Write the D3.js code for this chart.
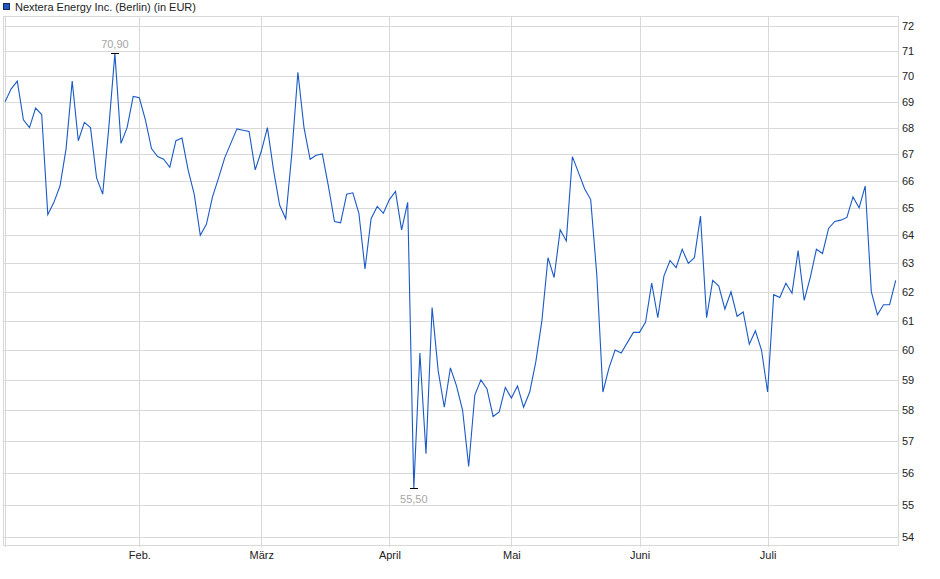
<!DOCTYPE html>
<html>
<head>
<meta charset="utf-8">
<script src="https://d3js.org/d3.v7.min.js"></script>
<style>
  body { margin: 0; background: #fff; }
  text { font-family: "Liberation Sans", Arial, sans-serif; }
</style>
</head>
<body>
<div id="chart"></div>
<script>
// Nextera Energy Inc. (Berlin), daily close in EUR, 2 Jan - 30 Jul (trading days)
const prices = [
  69.0, 69.5, 69.8, 68.3, 68.0, 68.75, 68.5, 64.75, 65.2, 65.8,
  67.2, 69.8, 67.5, 68.2, 68.0, 66.1, 65.5, 68.0, 70.9, 67.4,
  68.0, 69.2, 69.15, 68.3, 67.2, 66.9, 66.8, 66.5, 67.5, 67.6,
  66.4, 65.5, 64.0, 64.4, 65.4, 66.1, 66.85, 67.4, 67.95, 67.9,
  67.85, 66.4, 67.1, 68.0, 66.4, 65.1, 64.6, 67.0, 70.15, 68.0,
  66.8, 66.95, 67.0, 65.8, 64.5, 64.45, 65.5, 65.55, 64.8, 62.8,
  64.6, 65.05, 64.8, 65.3, 65.6, 64.2, 65.2, 55.5, 59.9, 56.6,
  61.45, 59.3, 58.1, 59.4, 58.8, 58.0, 56.2, 58.5, 59.0, 58.7,
  57.8, 57.95, 58.75, 58.4, 58.8, 58.1, 58.6, 59.6, 61.0, 63.2,
  62.5, 64.2, 63.8, 66.9, 66.3, 65.7, 65.3, 62.6, 58.6, 59.4,
  60.0, 59.9, 60.25, 60.6, 60.6, 60.95, 62.3, 61.1, 62.55, 63.1,
  62.85, 63.5, 63.0, 63.2, 64.7, 61.1, 62.4, 62.2, 61.4, 62.0,
  61.15, 61.3, 60.2, 60.65, 60.0, 58.6, 61.9, 61.8, 62.3, 61.95,
  63.45, 61.7, 62.5, 63.5, 63.35, 64.25, 64.5, 64.55, 64.65, 65.4,
  65.0, 65.8, 62.0, 61.2, 61.55, 61.55, 62.4
]

// first trading day of each month (index into prices)
const monthStarts = [0, 22, 42, 63, 83, 104, 125]
const monthLabels = ["", "Feb.", "März", "April", "Mai", "Juni", "Juli"]

const yTicks = d3.range(54, 73)

let width = 940, height = 579
let plot = {left: 3, right: 898, top: 16, bottom: 545}

let svg = d3.select("#chart")
            .append('svg')
            .attr('width', width)
            .attr('height', height)

let x = d3.scaleLinear()
          .domain([0, prices.length - 1])
          .range([5.1, 895.7])

// price axis is logarithmic
let y = d3.scaleLog()
          .domain([54, 72])
          .range([537.3, 26])

let gridColor = "#d9d9d9"

// horizontal grid + right axis labels
let yAxis = svg.append('g')
               .attr('transform', "translate(" + plot.right + ",0)")
               .call(d3.axisRight(y)
                       .tickValues(yTicks)
                       .tickFormat(d3.format("d"))
                       .tickSize(-(plot.right - plot.left))
                       .tickPadding(4))
yAxis.select('.domain').remove()
yAxis.selectAll('line')
     .attr('stroke', gridColor)
     .attr('shape-rendering', 'crispEdges')
yAxis.selectAll('text')
     .attr('fill', '#222')
     .style('font-size', '11px')

// vertical month grid + labels
let xAxis = svg.append('g')
               .attr('transform', "translate(0," + (plot.bottom + 2) + ")")
               .call(d3.axisBottom(x)
                       .tickValues(monthStarts)
                       .tickFormat(function(d, i) { return monthLabels[i] })
                       .tickSize(plot.bottom + 2 - plot.top)
                       .tickPadding(-(plot.bottom + 2 - plot.top) + 4))
xAxis.select('.domain').remove()
xAxis.selectAll('line')
     .attr('y2', -(plot.bottom + 2 - plot.top))
     .attr('stroke', gridColor)
     .attr('shape-rendering', 'crispEdges')
xAxis.selectAll('text')
     .attr('y', 4)
     .attr('fill', '#222')
     .style('font-size', '11px')

// frame
svg.append('rect')
   .attr('x', plot.left)
   .attr('y', plot.top)
   .attr('width', plot.right - plot.left)
   .attr('height', plot.bottom - plot.top)
   .attr('fill', 'none')
   .attr('stroke', gridColor)
   .attr('shape-rendering', 'crispEdges')

// price line
let line = d3.line()
             .x(function(d, i) { return x(i) })
             .y(function(d) { return y(d) })

svg.append('path')
   .datum(prices)
   .attr('d', line)
   .attr('fill', 'none')
   .attr('stroke', '#1a5ac6')
   .attr('stroke-width', 1.1)

// high / low markers
let hi = d3.maxIndex(prices), lo = d3.minIndex(prices)
let fmt = function(v) { return d3.format(".2f")(v).replace(".", ",") }

;[{i: hi, dy: -5}, {i: lo, dy: 14}].forEach(function(m) {
  let cx = x(m.i), cy = y(prices[m.i])
  svg.append('line')
     .attr('x1', cx - 4).attr('x2', cx + 4)
     .attr('y1', cy).attr('y2', cy)
     .attr('stroke', '#000')
     .attr('stroke-width', 1)
     .attr('shape-rendering', 'crispEdges')
  svg.append('text')
     .attr('x', cx)
     .attr('y', cy + m.dy)
     .attr('text-anchor', 'middle')
     .attr('fill', '#a6a6a6')
     .style('font-size', '11px')
     .text(fmt(prices[m.i]))
})

// legend
svg.append('rect')
   .attr('x', 3.5).attr('y', 3.5)
   .attr('width', 6).attr('height', 6)
   .attr('fill', '#1a5ac6')
   .attr('stroke', '#1c2a50')
svg.append('text')
   .attr('x', 15)
   .attr('y', 11)
   .attr('fill', '#222')
   .style('font-size', '11px')
   .text("Nextera Energy Inc. (Berlin) (in EUR)")
</script>
</body>
</html>
